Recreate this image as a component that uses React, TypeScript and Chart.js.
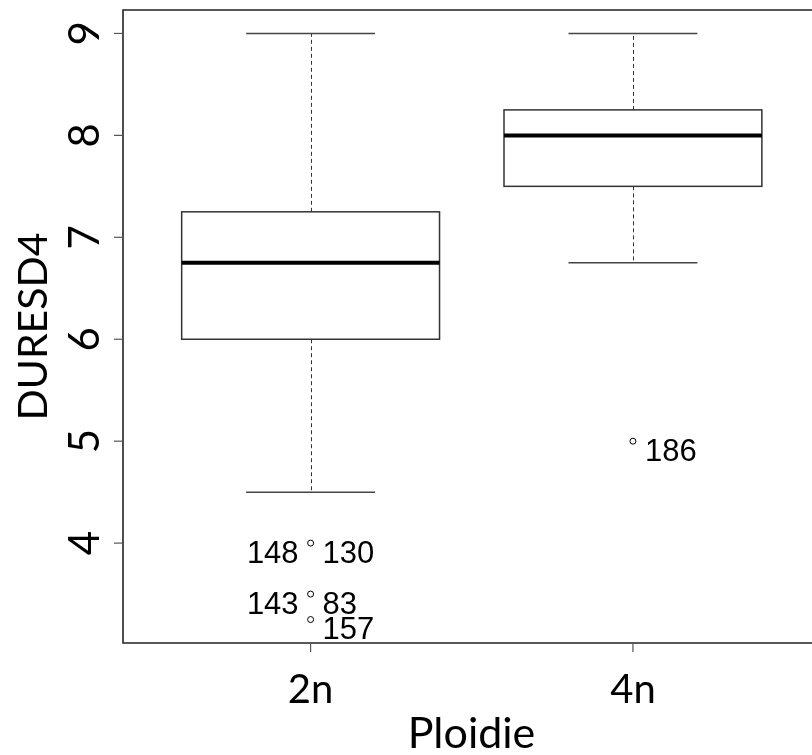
import React, { useEffect, useRef } from "react";
import { Chart, registerables } from "chart.js";

Chart.register(...registerables);

// ---- data ----
const categories = ["2n", "4n"];
const whiskerLow = [4.5, 6.75];
const q1 = [6.0, 7.5];
const median = [6.75, 8.0];
const q3 = [7.25, 8.25];
const whiskerHigh = [9.0, 9.0];
const outlierGroup = [1, 1, 1, 2];
const outlierValue = [4.0, 3.5, 3.25, 5.0];
// labels attached to outliers: [outlier index, text, side]
const labelOutlier = [0, 0, 1, 1, 2, 3];
const labelText = ["148", "130", "143", "83", "157", "186"];
const labelSide = ["left", "right", "left", "right", "right", "right"];
const yTicks = [4, 5, 6, 7, 8, 9];
const xTitle = "Ploidie";
const yTitle = "DURESD4";

const FONT_T = "Lato, 'Open Sans', sans-serif";
const FONT_L = "'Liberation Sans', Arial, sans-serif";

const boxPlugin = {
  id: "rbox",
  beforeDatasetsDraw(chart: any) {
    const ctx = chart.ctx;
    const xs = chart.scales.x;
    const ys = chart.scales.y;
    ctx.save();
    const unit = xs.getPixelForValue(2) - xs.getPixelForValue(1);
    const halfBox = unit * 0.4;
    const halfCap = halfBox / 2;
    categories.forEach((_, i) => {
      const cx = xs.getPixelForValue(i + 1);
      const yl = ys.getPixelForValue(whiskerLow[i]);
      const y1 = ys.getPixelForValue(q1[i]);
      const ym = ys.getPixelForValue(median[i]);
      const y3 = ys.getPixelForValue(q3[i]);
      const yh = ys.getPixelForValue(whiskerHigh[i]);
      // whiskers dashed
      ctx.strokeStyle = "#333";
      ctx.lineWidth = 1;
      ctx.setLineDash([4, 3]);
      ctx.beginPath();
      ctx.moveTo(Math.round(cx) + 0.5, y3);
      ctx.lineTo(Math.round(cx) + 0.5, yh);
      ctx.moveTo(Math.round(cx) + 0.5, y1);
      ctx.lineTo(Math.round(cx) + 0.5, yl);
      ctx.stroke();
      ctx.setLineDash([]);
      // caps
      ctx.strokeStyle = "#444";
      ctx.lineWidth = 1.5;
      ctx.beginPath();
      ctx.moveTo(cx - halfCap, yh);
      ctx.lineTo(cx + halfCap, yh);
      ctx.moveTo(cx - halfCap, yl);
      ctx.lineTo(cx + halfCap, yl);
      ctx.stroke();
      // box
      ctx.strokeStyle = "#333";
      ctx.lineWidth = 1.5;
      ctx.strokeRect(cx - halfBox, y3, halfBox * 2, y1 - y3);
      // median
      ctx.strokeStyle = "#000";
      ctx.lineWidth = 4;
      ctx.beginPath();
      ctx.moveTo(cx - halfBox, ym);
      ctx.lineTo(cx + halfBox, ym);
      ctx.stroke();
    });
    ctx.restore();
  },
  afterDraw(chart: any) {
    const ctx = chart.ctx;
    const xs = chart.scales.x;
    const ys = chart.scales.y;
    const ca = chart.chartArea;
    ctx.save();
    // frame (right edge lies beyond the canvas)
    ctx.strokeStyle = "#222";
    ctx.lineWidth = 1.6;
    ctx.beginPath();
    ctx.moveTo(ca.right + 20, ca.top);
    ctx.lineTo(ca.left, ca.top);
    ctx.lineTo(ca.left, ca.bottom);
    ctx.lineTo(ca.right + 20, ca.bottom);
    ctx.stroke();
    // y ticks
    ctx.strokeStyle = "#555";
    ctx.lineWidth = 1.2;
    ctx.fillStyle = "#000";
    yTicks.forEach((v) => {
      const y = ys.getPixelForValue(v);
      ctx.beginPath();
      ctx.moveTo(ca.left - 9, y);
      ctx.lineTo(ca.left, y);
      ctx.stroke();
      ctx.save();
      ctx.translate(99, y);
      ctx.rotate(-Math.PI / 2);
      ctx.font = `42px ${FONT_T}`;
      ctx.textAlign = "center";
      ctx.textBaseline = "alphabetic";
      ctx.fillText(String(v), 0, 0);
      ctx.restore();
    });
    // x ticks
    categories.forEach((c, i) => {
      const x = xs.getPixelForValue(i + 1);
      ctx.beginPath();
      ctx.moveTo(x, ca.bottom);
      ctx.lineTo(x, ca.bottom + 9);
      ctx.stroke();
      ctx.font = `40px ${FONT_T}`;
      ctx.textAlign = "center";
      ctx.textBaseline = "alphabetic";
      ctx.fillText(c, x, 703);
    });
    // titles
    ctx.font = `43px ${FONT_T}`;
    ctx.textAlign = "center";
    ctx.fillText(xTitle, (ca.left + 820) / 2, 748);
    ctx.save();
    ctx.translate(47, (ca.top + ca.bottom) / 2);
    ctx.rotate(-Math.PI / 2);
    ctx.font = `41px ${FONT_T}`;
    ctx.textAlign = "center";
    ctx.textBaseline = "alphabetic";
    ctx.fillText(yTitle, 0, 0);
    ctx.restore();
    // outlier labels
    ctx.font = `31px ${FONT_L}`;
    ctx.textBaseline = "middle";
    labelText.forEach((t, k) => {
      const oi = labelOutlier[k];
      const x = xs.getPixelForValue(outlierGroup[oi]);
      const y = ys.getPixelForValue(outlierValue[oi]);
      if (labelSide[k] === "left") {
        ctx.textAlign = "right";
        ctx.fillText(t, x - 12, y + 11);
      } else {
        ctx.textAlign = "left";
        ctx.fillText(t, x + 12, y + 11);
      }
    });
    ctx.restore();
  },
};

export default function App() {
  const ref = useRef<HTMLCanvasElement | null>(null);
  useEffect(() => {
    if (!ref.current) return;
    const chart = new Chart(ref.current, {
      type: "scatter",
      data: {
        datasets: [
          {
            data: outlierValue.map((v, i) => ({ x: outlierGroup[i], y: v })),
            pointStyle: "circle",
            pointRadius: 3,
            pointBorderWidth: 1,
            pointBorderColor: "#000",
            pointBackgroundColor: "rgba(0,0,0,0)",
          },
        ],
      },
      plugins: [boxPlugin],
      options: {
        responsive: false,
        animation: false,
        devicePixelRatio: 1,
        layout: { padding: { left: 123, top: 10, right: 0, bottom: 112 } },
        plugins: { legend: { display: false }, tooltip: { enabled: false } },
        scales: {
          x: { type: "linear", min: 0.418, max: 2.54, display: false },
          y: { type: "linear", min: 3.02, max: 9.23, display: false },
        },
      },
    });
    return () => chart.destroy();
  }, []);
  return (
    <div style={{ position: "fixed", left: 0, top: 0, width: 812, height: 755, background: "#fff" }}>
      <canvas ref={ref} width={812} height={755} style={{ width: 812, height: 755, display: "block" }} />
    </div>
  );
}
